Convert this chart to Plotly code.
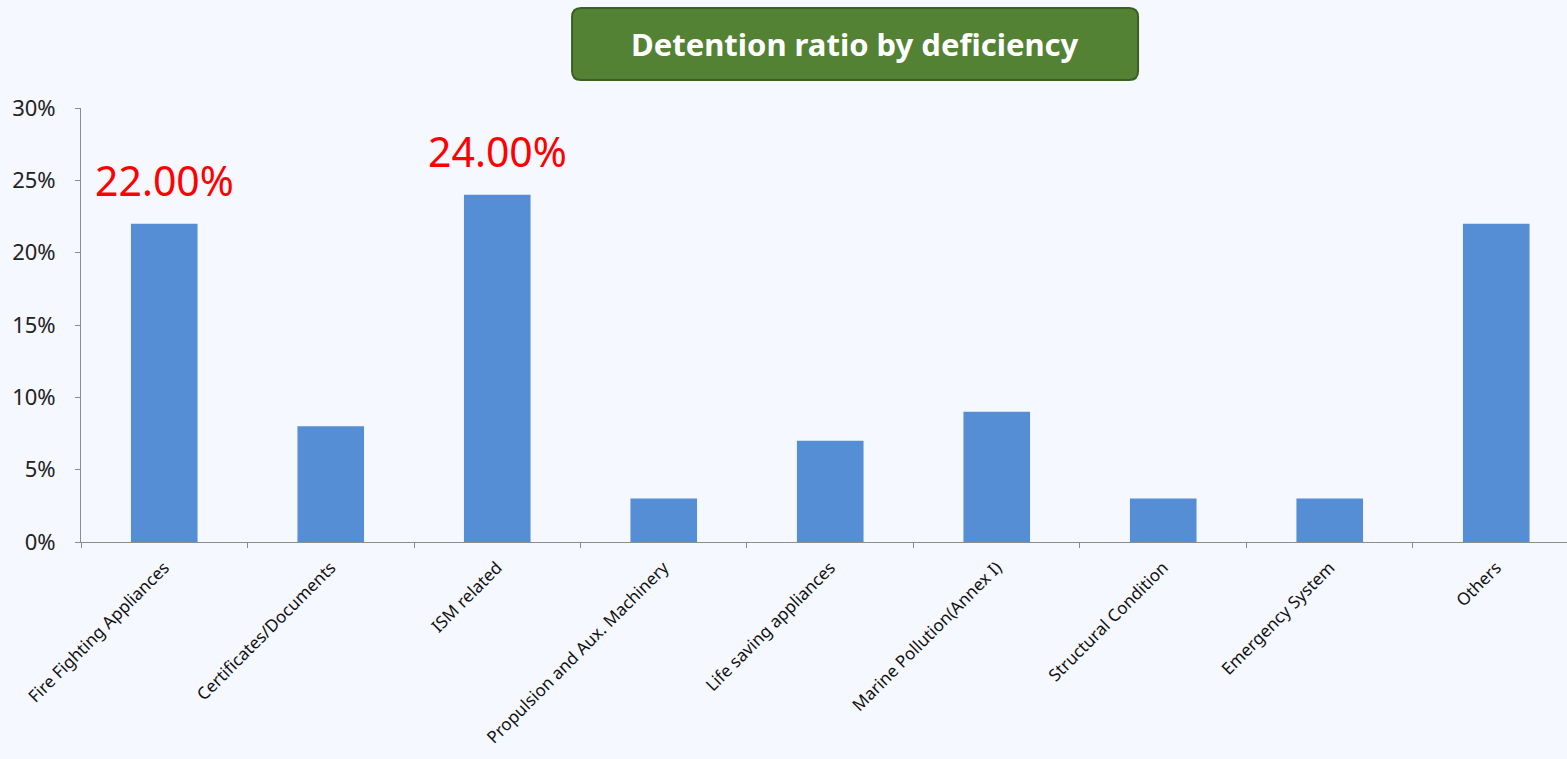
import plotly.graph_objects as go

categories = [
    "Fire Fighting Appliances",
    "Certificates/Documents",
    "ISM related",
    "Propulsion and Aux. Machinery",
    "Life saving appliances",
    "Marine Pollution(Annex I)",
    "Structural Condition",
    "Emergency System",
    "Others",
]
ratios = [0.22, 0.08, 0.24, 0.03, 0.07, 0.09, 0.03, 0.03, 0.22]
labelled = ["Fire Fighting Appliances", "ISM related"]

bg = "#F5F8FE"
bar_color = "#558ED5"

fig = go.Figure(
    go.Bar(
        x=categories,
        y=ratios,
        width=0.4,
        marker=dict(color=bar_color, line=dict(width=0)),
        hovertemplate="%{x}: %{y:.2%}<extra></extra>",
    )
)

# red value labels above the two named bars
for cat, val in zip(categories, ratios):
    if cat in labelled:
        fig.add_annotation(
            x=cat, y=val, text=f"{val:.2%}", showarrow=False,
            yanchor="bottom", yshift=14,
            font=dict(family="Noto Sans", size=41, color="#FF0000"),
        )

# title in a green rounded box
cx, cy = 0.5209, 1.1475
w, h, r = 283, 36, 9
path = (
    f"M {-w + r},{-h} L {w - r},{-h} Q {w},{-h} {w},{-h + r} "
    f"L {w},{h - r} Q {w},{h} {w - r},{h} L {-w + r},{h} "
    f"Q {-w},{h} {-w},{h - r} L {-w},{-h + r} Q {-w},{-h} {-w + r},{-h} Z"
)
fig.add_shape(
    type="path", path=path, xref="paper", yref="paper",
    xsizemode="pixel", ysizemode="pixel", xanchor=cx, yanchor=cy,
    fillcolor="#548235", line=dict(color="#3B5E23", width=2), layer="above",
)
fig.add_annotation(
    x=cx, y=cy, xref="paper", yref="paper", showarrow=False,
    text="<b>Detention ratio by deficiency</b>",
    font=dict(family="Noto Sans", size=31, color="white"),
    xanchor="center", yanchor="middle",
)

fig.update_layout(
    width=1567, height=759,
    margin=dict(l=81, r=0, t=108, b=217),
    paper_bgcolor=bg, plot_bgcolor=bg,
    showlegend=False,
    font=dict(family="Noto Sans", color="#222222"),
)
fig.update_xaxes(
    range=[-0.5, 8.425],
    showgrid=False, showline=True, linecolor="#8C8C8C", linewidth=1,
    ticks="outside", tickson="boundaries", ticklen=5, tickcolor="#8C8C8C",
    tickangle=-45, tickfont=dict(size=17, color="#111111"),
    ticklabelstandoff=8,
)
fig.update_yaxes(
    range=[0, 0.30], dtick=0.05, tickformat=".0%",
    showgrid=False, showline=True, linecolor="#8C8C8C", linewidth=1,
    ticks="outside", ticklen=5, tickcolor="#8C8C8C",
    tickfont=dict(size=22, color="#222222"), zeroline=False,
    ticklabelstandoff=15,
)

fig.write_html(
    "out.html",
    config={"displayModeBar": False},
    post_script=f"document.body.style.margin='0';document.body.style.background='{bg}';",
)
